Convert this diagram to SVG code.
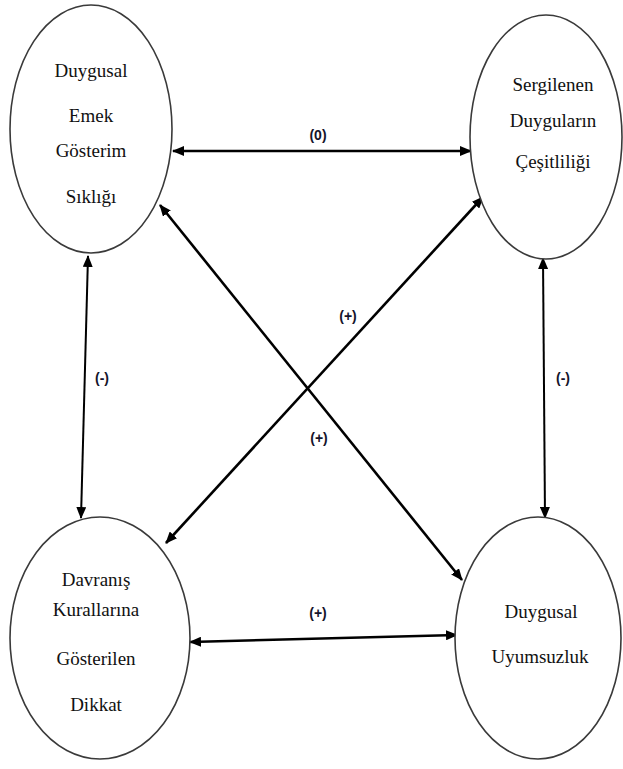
<svg xmlns="http://www.w3.org/2000/svg" width="623" height="769" viewBox="0 0 623 769">
  <style>
    .node ellipse { fill: #ffffff; stroke: #3a3a3a; stroke-width: 1.6; }
    .node text { font-family: 'Liberation Serif', 'Times New Roman', serif; font-size: 19px; fill: #111; text-anchor: middle; }
    .edge { stroke: #000; stroke-width: 2.6; fill: none; marker-start: url(#arrow); marker-end: url(#arrow); }
    .edge.thin { stroke-width: 2; }
    .lbl { font-family: 'Liberation Sans', Arial, sans-serif; font-weight: bold; font-size: 14px; fill: #14142a; text-anchor: middle; }
  </style>
  <defs>
    <marker id="arrow" viewBox="0 0 12 10" refX="11" refY="5" markerWidth="12" markerHeight="10" markerUnits="userSpaceOnUse" orient="auto-start-reverse">
      <path d="M0,0 L12,5 L0,10 z" fill="#000"/>
    </marker>
  </defs>
  <rect width="623" height="769" fill="#ffffff"/>

  <!-- bidirectional links and their sign labels -->
  <g id="connectors">
    <line class="edge" x1="173" y1="151" x2="471" y2="151"/>
    <line class="edge thin" x1="88" y1="256" x2="81" y2="518"/>
    <line class="edge thin" x1="543" y1="258" x2="545" y2="518"/>
    <line class="edge" x1="160" y1="205" x2="462" y2="580"/>
    <line class="edge" x1="483" y1="197" x2="166" y2="543"/>
    <line class="edge" x1="190" y1="642" x2="457" y2="635"/>
    <text class="lbl" x="318" y="140">(0)</text>
    <text class="lbl" x="102" y="383">(-)</text>
    <text class="lbl" x="563" y="383">(-)</text>
    <text class="lbl" x="348" y="321">(+)</text>
    <text class="lbl" x="319" y="443">(+)</text>
    <text class="lbl" x="318" y="618">(+)</text>
  </g>

  <g id="node-duygusal-emek" class="node">
    <ellipse cx="91" cy="129" rx="81" ry="124"/>
    <text x="91" y="77">Duygusal</text>
    <text x="91" y="122">Emek</text>
    <text x="91" y="157">Gösterim</text>
    <text x="91" y="203">Sıklığı</text>
  </g>

  <g id="node-sergilenen" class="node">
    <ellipse cx="546" cy="137" rx="76" ry="122"/>
    <text x="553" y="91">Sergilenen</text>
    <text x="553" y="127">Duyguların</text>
    <text x="553" y="168">Çeşitliliği</text>
  </g>

  <g id="node-davranis" class="node">
    <ellipse cx="100" cy="638" rx="90" ry="121"/>
    <text x="96" y="586">Davranış</text>
    <text x="96" y="616">Kurallarına</text>
    <text x="96" y="665">Gösterilen</text>
    <text x="96" y="711">Dikkat</text>
  </g>

  <g id="node-uyumsuzluk" class="node">
    <ellipse cx="538" cy="638" rx="83" ry="121"/>
    <text x="541" y="618">Duygusal</text>
    <text x="540" y="663">Uyumsuzluk</text>
  </g>
</svg>
